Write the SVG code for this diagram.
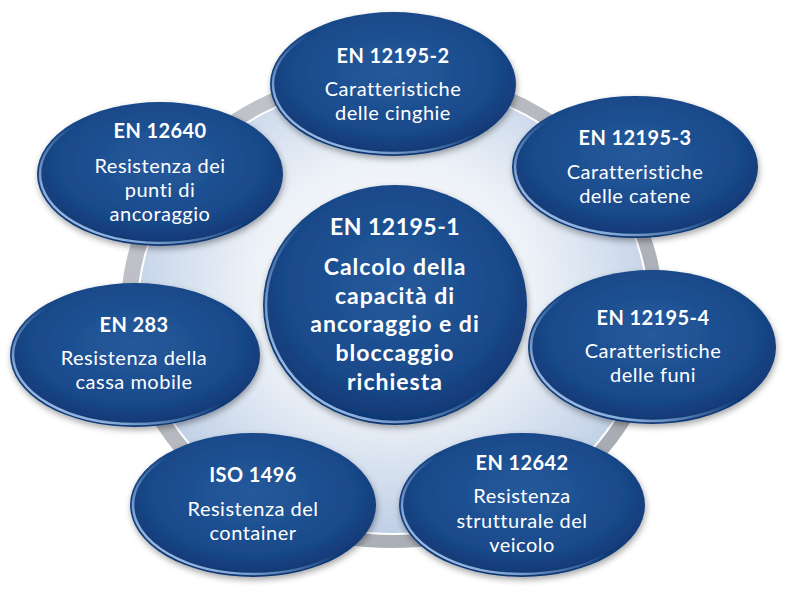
<svg xmlns="http://www.w3.org/2000/svg" width="788" height="600" viewBox="0 0 788 600">
  <style>
    .node { fill: url(#nodeFill); filter: url(#shadow); }
    .bevel { fill: none; stroke: url(#bevelStroke); stroke-width: 2.5; }
    text { fill: #ffffff; text-anchor: middle; font-family: Lato, "Open Sans", "Liberation Sans", sans-serif; }
    .hdr { font-size: 20px; font-weight: bold; letter-spacing: 0.4px; }
    .txt { font-size: 20px; letter-spacing: 0.5px; }
    .ctr { font-size: 23px; font-weight: bold; letter-spacing: 1px; }
    .ctrh { font-size: 23px; font-weight: bold; letter-spacing: 0.5px; }
  </style>
  <defs>
    <radialGradient id="bgFill" cx="50%" cy="45%" r="55%">
      <stop offset="0" stop-color="#ffffff"/>
      <stop offset="0.5" stop-color="#edf2f8"/>
      <stop offset="1" stop-color="#bfcfe6"/>
    </radialGradient>
    <linearGradient id="rimFill" x1="0" y1="0" x2="1" y2="1">
      <stop offset="0" stop-color="#c6c8ce"/>
      <stop offset="1" stop-color="#a2a6ae"/>
    </linearGradient>
    <radialGradient id="nodeFill" cx="50%" cy="42%" r="58%">
      <stop offset="0" stop-color="#255a9c"/>
      <stop offset="0.7" stop-color="#1a4a8b"/>
      <stop offset="1" stop-color="#0f3672"/>
    </radialGradient>
    <linearGradient id="bevelStroke" x1="1" y1="0" x2="0" y2="1">
      <stop offset="0" stop-color="#a8c8f0" stop-opacity="0"/>
      <stop offset="0.5" stop-color="#a8c8f0" stop-opacity="0"/>
      <stop offset="0.8" stop-color="#a8c8f0" stop-opacity="0.8"/>
      <stop offset="1" stop-color="#c0daf8" stop-opacity="1"/>
    </linearGradient>
    <filter id="shadow" x="-10%" y="-10%" width="125%" height="130%">
      <feDropShadow dx="1" dy="3" stdDeviation="3" flood-color="#000000" flood-opacity="0.35"/>
    </filter>
  </defs>

  <rect x="0" y="0" width="788" height="600" fill="#ffffff"/>

  <g id="background-ring">
    <ellipse cx="392" cy="308" rx="271" ry="240" fill="url(#rimFill)"/>
    <ellipse cx="393" cy="308" rx="255" ry="226" fill="url(#bgFill)" stroke="#ffffff" stroke-width="2"/>
  </g>

  <g id="connectors"></g>

  <g id="node-en12195-1">
    <ellipse class="node" cx="395" cy="305" rx="132" ry="120"/>
    <ellipse class="bevel" cx="395" cy="305" rx="129" ry="117"/>
    <text class="ctrh" x="395" y="235">EN 12195-1</text>
    <text class="ctr" x="395" y="275">Calcolo della</text>
    <text class="ctr" x="395" y="304">capacità di</text>
    <text class="ctr" x="395" y="332">ancoraggio e di</text>
    <text class="ctr" x="395" y="361">bloccaggio</text>
    <text class="ctr" x="395" y="390">richiesta</text>
  </g>

  <g id="node-en12195-2">
    <ellipse class="node" cx="393" cy="84" rx="123" ry="72"/>
    <ellipse class="bevel" cx="393" cy="84" rx="120" ry="69"/>
    <text class="hdr" x="393" y="63">EN 12195-2</text>
    <text class="txt" x="393" y="96">Caratteristiche</text>
    <text class="txt" x="393" y="120">delle cinghie</text>
  </g>

  <g id="node-en12640">
    <ellipse class="node" cx="160" cy="174" rx="123" ry="72"/>
    <ellipse class="bevel" cx="160" cy="174" rx="120" ry="69"/>
    <text class="hdr" x="160" y="138">EN 12640</text>
    <text class="txt" x="160" y="173">Resistenza dei</text>
    <text class="txt" x="160" y="197">punti di</text>
    <text class="txt" x="160" y="221">ancoraggio</text>
  </g>

  <g id="node-en12195-3">
    <ellipse class="node" cx="635" cy="167" rx="123" ry="71"/>
    <ellipse class="bevel" cx="635" cy="167" rx="120" ry="68"/>
    <text class="hdr" x="635" y="145">EN 12195-3</text>
    <text class="txt" x="635" y="179">Caratteristiche</text>
    <text class="txt" x="635" y="203">delle catene</text>
  </g>

  <g id="node-en283">
    <ellipse class="node" cx="135" cy="355" rx="125" ry="72"/>
    <ellipse class="bevel" cx="135" cy="355" rx="122" ry="69"/>
    <text class="hdr" x="134" y="332">EN 283</text>
    <text class="txt" x="134" y="365">Resistenza della</text>
    <text class="txt" x="134" y="389">cassa mobile</text>
  </g>

  <g id="node-en12195-4">
    <ellipse class="node" cx="652" cy="347" rx="124" ry="77"/>
    <ellipse class="bevel" cx="652" cy="347" rx="121" ry="74"/>
    <text class="hdr" x="653" y="325">EN 12195-4</text>
    <text class="txt" x="653" y="358">Caratteristiche</text>
    <text class="txt" x="653" y="382">delle funi</text>
  </g>

  <g id="node-iso1496">
    <ellipse class="node" cx="253" cy="505" rx="123" ry="72"/>
    <ellipse class="bevel" cx="253" cy="505" rx="120" ry="69"/>
    <text class="hdr" x="253" y="482">ISO 1496</text>
    <text class="txt" x="253" y="516">Resistenza del</text>
    <text class="txt" x="253" y="540">container</text>
  </g>

  <g id="node-en12642">
    <ellipse class="node" cx="522" cy="505" rx="123" ry="72"/>
    <ellipse class="bevel" cx="522" cy="505" rx="120" ry="69"/>
    <text class="hdr" x="522" y="470">EN 12642</text>
    <text class="txt" x="522" y="503">Resistenza</text>
    <text class="txt" x="522" y="528">strutturale del</text>
    <text class="txt" x="522" y="552">veicolo</text>
  </g>
</svg>
